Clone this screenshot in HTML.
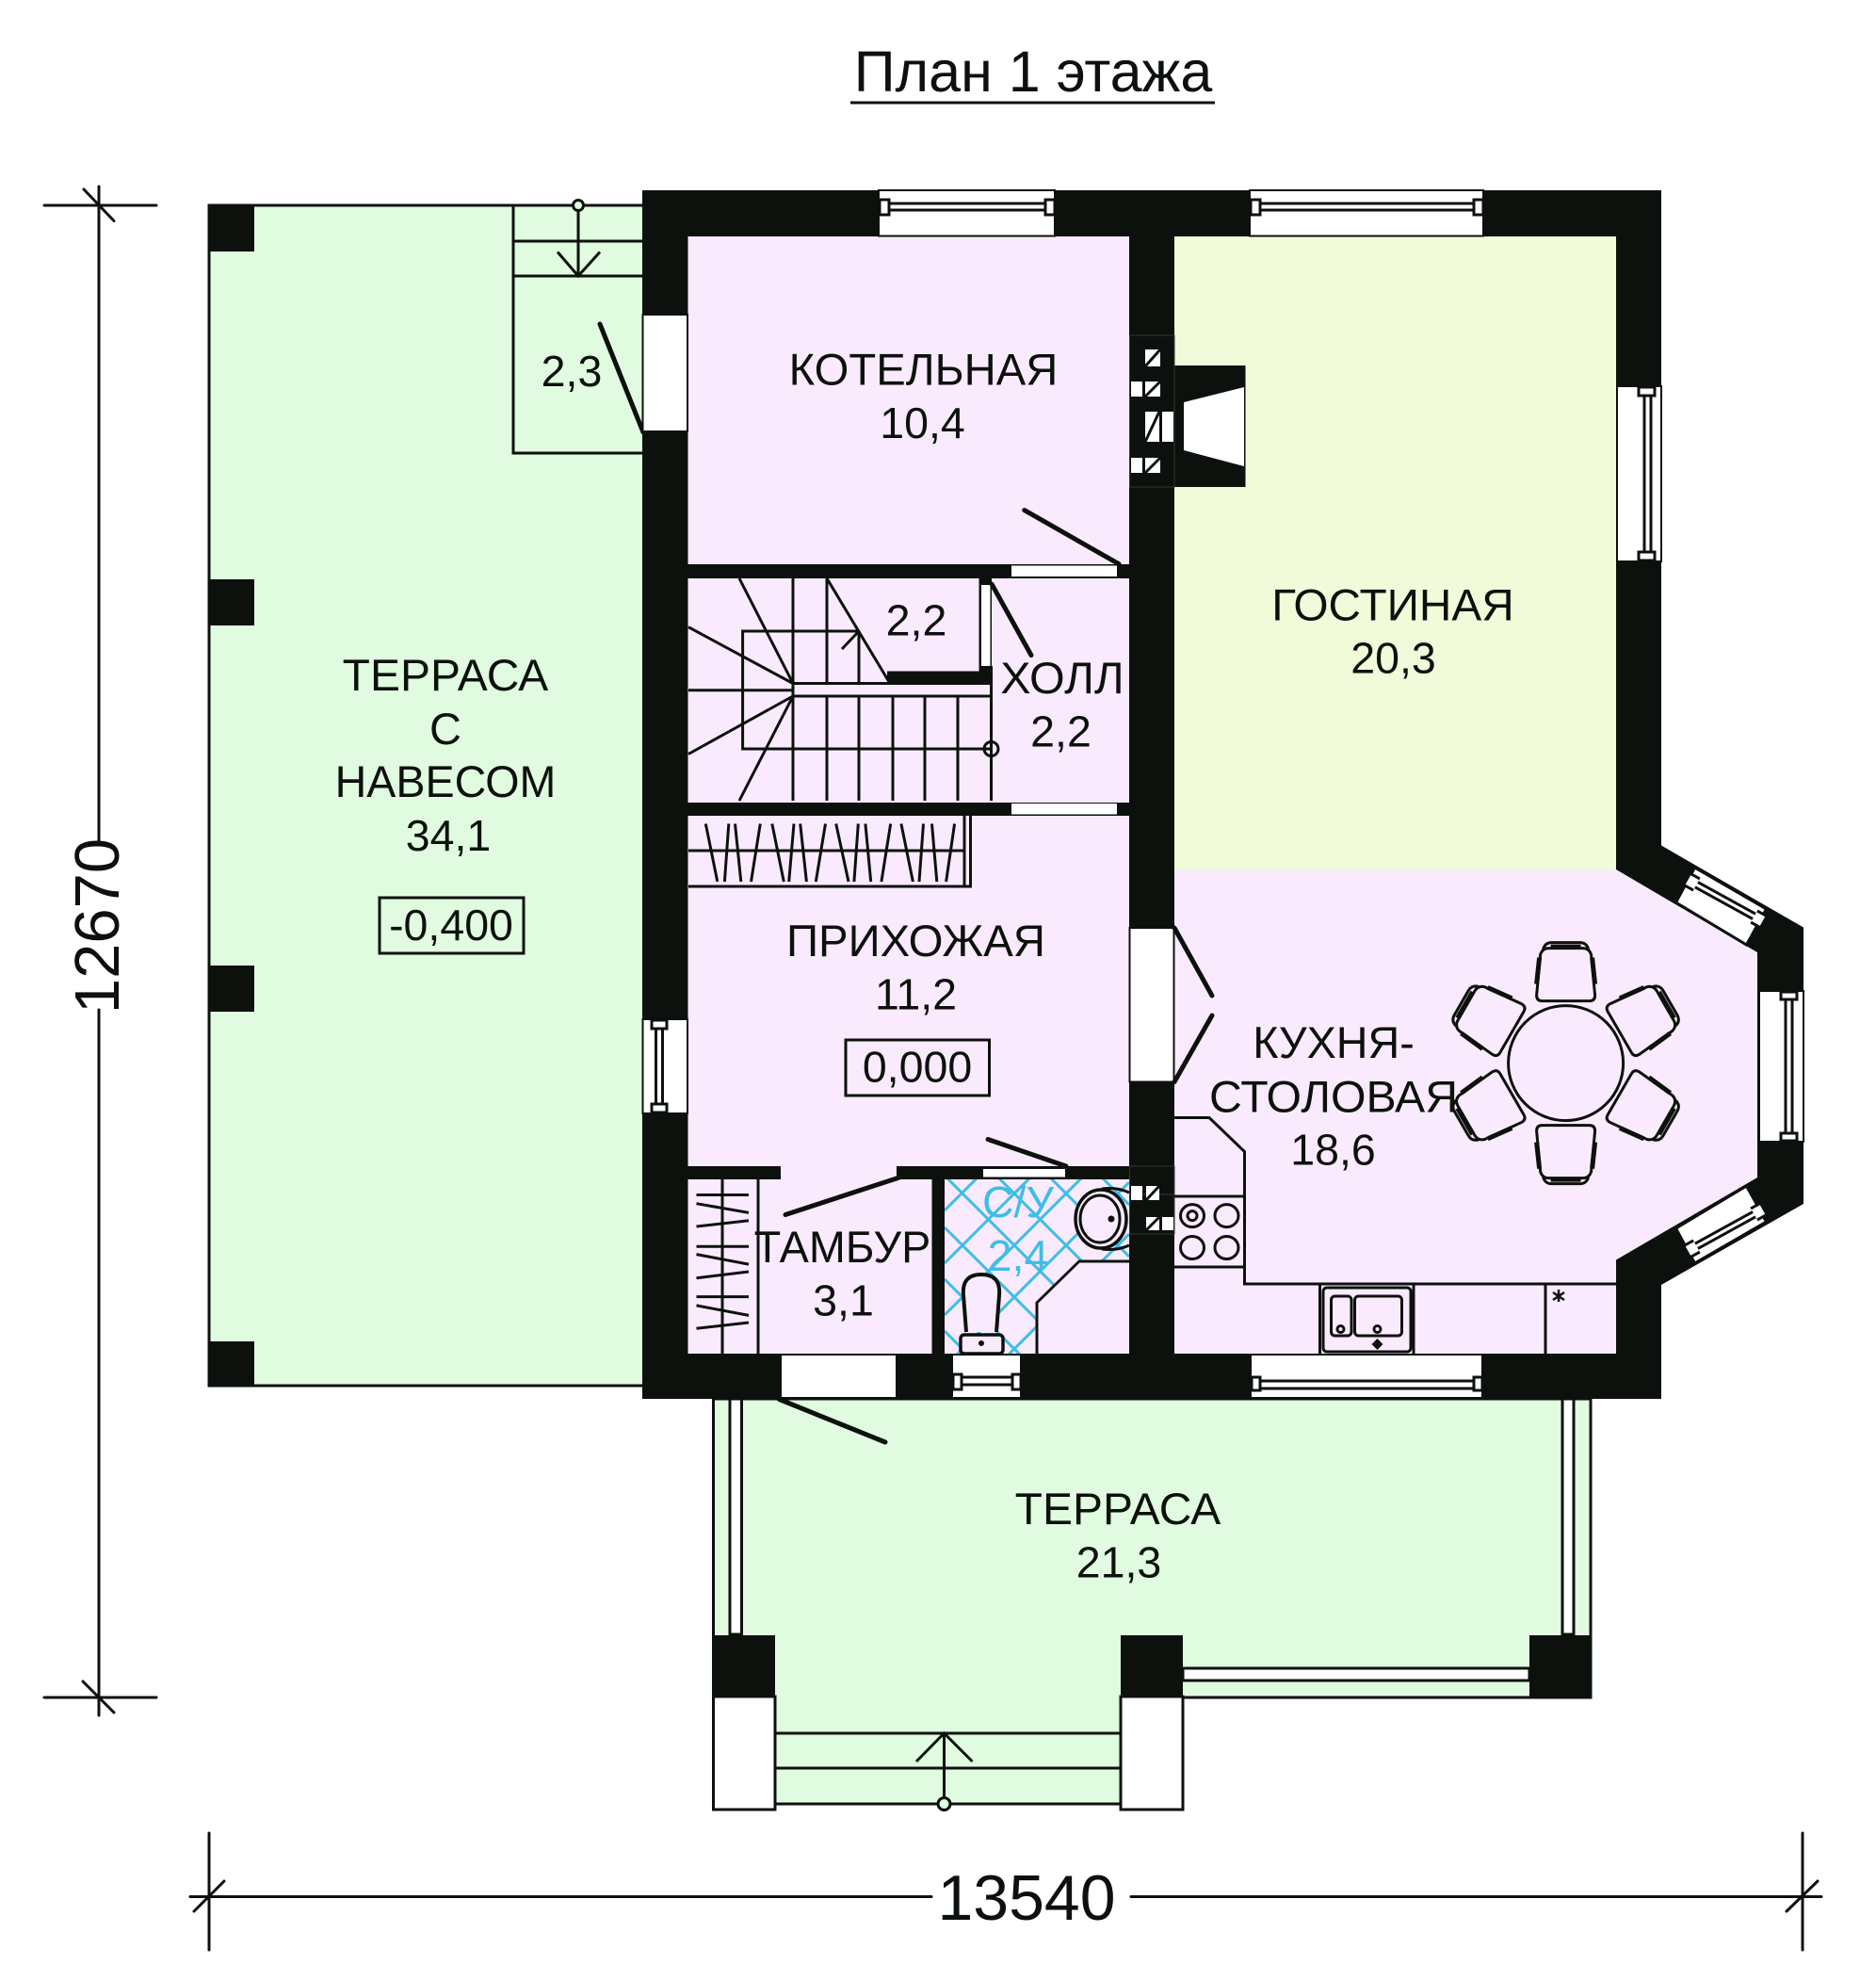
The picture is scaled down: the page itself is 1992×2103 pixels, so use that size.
<!DOCTYPE html>
<html><head><meta charset="utf-8"><style>
html,body{margin:0;padding:0;background:#fff}
svg{display:block}
text{font-family:"Liberation Sans",sans-serif;font-size:46.5px;fill:#0d110d;text-anchor:middle}
text.c{font-size:47px}
</style></head><body>
<svg width="1992" height="2103" viewBox="0 0 1992 2103" xmlns="http://www.w3.org/2000/svg">
<defs>
<clipPath id="su"><polygon points="1003,1252 1199,1252 1199,1339 1146,1339 1101,1383 1101,1437 1003,1437"/></clipPath>
<g id="chair" fill="none" stroke="#0d110d">
<path d="M-31,-72 L-27,-115 Q-25,-122 -18,-122 L18,-122 Q25,-122 27,-115 L31,-72 Q31,-66 25,-66 L-25,-66 Q-31,-66 -31,-72Z" stroke-width="3" fill="#f9ebfd"/>
<path d="M-31,-84 L-28,-112 M31,-84 L28,-112" stroke-width="5"/>
<path d="M-24,-121 Q-22,-128 -15,-128 L15,-128 Q22,-128 24,-121" stroke-width="3"/>
<path d="M-16,-124 L16,-124" stroke-width="4"/>
</g>
<g id="baywin">
<polygon points="1803,921 1879,965 1858,1003 1783,958" fill="#fff" stroke="#0d110d" stroke-width="3"/>
<line x1="1801" y1="937" x2="1870" y2="975" stroke="#0d110d" stroke-width="9"/>
<line x1="1801" y1="937" x2="1870" y2="975" stroke="#fff" stroke-width="3"/>
<line x1="1796" y1="934" x2="1805" y2="939" stroke="#0d110d" stroke-width="17"/>
<line x1="1796" y1="934" x2="1805" y2="939" stroke="#fff" stroke-width="11"/>
<line x1="1866" y1="973" x2="1875" y2="978" stroke="#0d110d" stroke-width="17"/>
<line x1="1866" y1="973" x2="1875" y2="978" stroke="#fff" stroke-width="11"/>
</g>
</defs>
<rect width="1992" height="2103" fill="#fff"/>

<!-- title -->
<text x="1097" y="97" style="font-size:61px">План 1 этажа</text>
<line x1="903" y1="109" x2="1290" y2="109" stroke="#0d110d" stroke-width="3"/>

<!-- dimensions -->
<g stroke="#0d110d" stroke-width="3" stroke-linecap="round" fill="none">
<path d="M105,198 V892 M105,1072 V1821 M47,218 H166 M47,1802 H166 M89,201 L121,234.5 M88,1785 L121,1818"/>
<path d="M202,2013.5 H989 M1201,2013.5 H1934 M222,1946 V2070 M1914,1946 V2070 M206,2029 L238,1997 M1897,2029 L1930,1997"/>
</g>
<text transform="translate(126,983) rotate(-90)" style="font-size:67px">12670</text>
<text x="1090" y="2038" style="font-size:68px">13540</text>

<!-- left terrace -->
<rect x="222" y="218" width="465" height="1253" fill="#e0fbe0" stroke="#0d110d" stroke-width="3"/>
<rect x="222" y="218" width="48" height="49" fill="#0d110d"/>
<rect x="222" y="615" width="48" height="49" fill="#0d110d"/>
<rect x="222" y="1025" width="48" height="49" fill="#0d110d"/>
<rect x="222" y="1424" width="48" height="47" fill="#0d110d"/>
<g stroke="#0d110d" stroke-width="3" fill="none">
<path d="M545,218 V481 H682 M545,256 H682 M545,293 H682 M614,218 V293 M592,267.5 L614,293 L637,267.5"/>
<circle cx="614" cy="218" r="5.5" fill="#e0fbe0"/>
</g>
<line x1="637" y1="344" x2="683" y2="459" stroke="#0d110d" stroke-width="5" stroke-linecap="round"/>
<rect x="403" y="953" width="153" height="59" fill="none" stroke="#0d110d" stroke-width="3"/>

<!-- bottom terrace -->
<rect x="757.5" y="1485" width="931.5" height="317" fill="#e0fbe0" stroke="#0d110d" stroke-width="3"/>
<rect x="823" y="1798" width="367" height="117" fill="#e0fbe0"/>
<rect x="757.5" y="1801" width="65.5" height="120" fill="#fff" stroke="#0d110d" stroke-width="3"/>
<rect x="1190" y="1801" width="66" height="120" fill="#fff" stroke="#0d110d" stroke-width="3"/>
<rect x="775" y="1485" width="12.5" height="250" fill="#fff" stroke="#0d110d" stroke-width="3"/>
<rect x="1659" y="1485" width="12" height="250" fill="#fff" stroke="#0d110d" stroke-width="3"/>
<rect x="1256" y="1771" width="368" height="13" fill="#fff" stroke="#0d110d" stroke-width="3"/>
<line x1="1256" y1="1802" x2="1689" y2="1802" stroke="#0d110d" stroke-width="3"/>
<rect x="757.5" y="1736" width="65.5" height="65" fill="#0d110d"/>
<rect x="1190" y="1736" width="66" height="65" fill="#0d110d"/>
<rect x="1624" y="1736" width="65" height="66" fill="#0d110d"/>
<g stroke="#0d110d" stroke-width="3" fill="none">
<path d="M823,1840 H1190 M823,1877 H1190 M823,1915 H1190 M1002.5,1840 V1915 M973,1870 L1002.5,1840 L1032.5,1870"/>
<circle cx="1002.5" cy="1915" r="6.5" fill="#e0fbe0"/>
</g>
<line x1="827.5" y1="1485.5" x2="940" y2="1531" stroke="#0d110d" stroke-width="5" stroke-linecap="round"/>

<!-- main walls -->
<polygon points="682,202 1764,202 1764,897.5 1915,984.5 1915,1278 1764,1364 1764,1485 682,1485" fill="#0d110d"/>

<!-- rooms -->
<g fill="#f9ebfd">
<rect x="730.5" y="251" width="468.5" height="348"/>
<rect x="730.5" y="614" width="468.5" height="238"/>
<rect x="730.5" y="866" width="468.5" height="372"/>
<rect x="829" y="1238" width="123" height="14"/>
<rect x="730.5" y="1252" width="259" height="185"/>
<rect x="1003" y="1252" width="196" height="185"/>
<polygon points="1247,923 1716,923 1866,1011 1866,1250 1716,1337.5 1716,1437 1247,1437"/>
</g>
<rect x="1247" y="251" width="469" height="672" fill="#f1fbd9"/>

<!-- openings -->
<g fill="#fff" stroke="#0d110d" stroke-width="2">
<rect x="682.5" y="334" width="47.5" height="124"/>
<rect x="682.5" y="1082" width="47.5" height="100"/>
<rect x="933" y="202" width="187" height="48.5"/>
<rect x="1327" y="202" width="248" height="48.5"/>
<rect x="1717" y="410" width="47" height="186"/>
<rect x="1868" y="1052" width="47" height="160"/>
<rect x="829" y="1438" width="123" height="46"/>
<rect x="1011" y="1438" width="73" height="46"/>
<rect x="1328" y="1438" width="246" height="46"/>
<rect x="1199.5" y="985" width="47" height="163.5"/>
</g>
<g fill="#fff">
<rect x="1074" y="600.5" width="112" height="11.5"/>
<rect x="1074" y="853" width="112" height="11.5"/>
<rect x="1044" y="1241" width="87" height="8.5"/>
</g>

<!-- window mullions -->
<g stroke="#0d110d" stroke-width="3" fill="#fff">
<rect x="935" y="216" width="185" height="7"/>
<rect x="934" y="212" width="10" height="16"/><rect x="1110" y="212" width="10" height="16"/>
<rect x="1328" y="216" width="247" height="7"/>
<rect x="1328" y="212" width="10" height="16"/><rect x="1565" y="212" width="10" height="16"/>
<rect x="1746" y="411" width="7" height="184"/>
<rect x="1740" y="411" width="17" height="9"/><rect x="1740" y="586" width="17" height="9"/>
<rect x="1896" y="1053" width="7" height="158"/>
<rect x="1891" y="1053" width="17" height="8"/><rect x="1891" y="1203" width="17" height="8"/>
<rect x="696.5" y="1083" width="7" height="98"/>
<rect x="692" y="1083" width="16" height="9"/><rect x="692" y="1172" width="16" height="9"/>
<rect x="1012" y="1462" width="71" height="8"/>
<rect x="1012" y="1459" width="9" height="16"/><rect x="1075" y="1459" width="9" height="16"/>
<rect x="1329" y="1466" width="245" height="8"/>
<rect x="1329" y="1462" width="9" height="14"/><rect x="1565" y="1462" width="9" height="14"/>
</g>

<!-- bay windows -->
<use href="#baywin" transform="translate(-3.5 0)"/>
<use href="#baywin" transform="matrix(1 0 0 -1 -3.5 2262)"/>

<!-- vents and fireplace -->
<rect x="1247" y="388" width="75.5" height="129" fill="#0d110d"/>
<polygon points="1257,427 1321,411 1321,495 1257,478" fill="#fff"/>
<g fill="none" stroke="#333833" stroke-width="1">
<rect x="1199.5" y="356" width="47.5" height="161"/>
<rect x="1199.5" y="1268" width="47.5" height="42"/>
<rect x="1199.5" y="1238" width="47.5" height="72"/>
</g>
<g fill="#fff">
<rect x="1216" y="371" width="16" height="18"/>
<rect x="1201" y="405" width="12" height="16"/><rect x="1216" y="405" width="16" height="16"/>
<rect x="1216" y="437" width="15" height="32"/><rect x="1234" y="437" width="12" height="32"/>
<rect x="1201" y="486" width="12" height="16"/><rect x="1216" y="486" width="16" height="16"/>
<rect x="1201" y="1259" width="12" height="15"/><rect x="1217" y="1259" width="14" height="15"/>
<rect x="1217" y="1292" width="14" height="14"/><rect x="1234" y="1292" width="12" height="14"/>
</g>
<g stroke="#0d110d" stroke-width="3">
<path d="M1216,389 L1232,371 M1216,421 L1232,405 M1216,469 L1231,437 M1216,502 L1232,486 M1217,1274 L1231,1259 M1217,1306 L1231,1292"/>
</g>

<!-- hall partitions and stairs -->
<rect x="1039.5" y="614" width="13.5" height="111" fill="#0d110d"/>
<rect x="942" y="712.5" width="111" height="13" fill="#0d110d"/>
<rect x="1042" y="621" width="9.5" height="86" fill="#fff"/>
<g stroke="#0d110d" stroke-width="3" fill="none">
<path d="M842,614 V850 M878,614 V725.5 M878,739 V850 M912,670 V725.5 M912,739 V850 M948,739 V850 M982,739 V850 M1017,739 V850 M1052.5,707 V850"/>
<path d="M842,725.5 H1052.5 M842,739 H1052.5 M731,732.7 H842"/>
<path d="M785,614 L842,725.5 M731,665.7 L842,725.5 M731,800.5 L842,739 M785,850 L842,739 M878,614 L945,725.5"/>
<path d="M912,670 H788.6 V795 H1052.5 M894,689 L912,670"/>
<circle cx="1052.5" cy="795" r="7.5"/>
</g>
<g stroke="#0d110d" stroke-width="5" stroke-linecap="round">
<line x1="1188" y1="598.7" x2="1087.7" y2="541.6"/>
<line x1="1053" y1="620" x2="1095" y2="695.6"/>
<line x1="1132" y1="1238" x2="1049" y2="1209.5"/>
<line x1="955" y1="1250" x2="834" y2="1289.5"/>
<line x1="1247" y1="985" x2="1287" y2="1057"/>
<line x1="1247" y1="1148.5" x2="1287" y2="1078"/>
</g>

<!-- lobby closet -->
<g stroke="#0d110d" stroke-width="3" fill="none">
<path d="M731,941 H1030.5 V866 M1024,866 V941 M731,903 H1024"/>
<path d="M749.3,874.5 L761.8,936 M773.8,874.5 L769.4,936 M780.5,874.5 L786.8,936 M807.3,874.5 L797.5,936 M819.8,874.5 L832.3,936 M843,874.5 L837.7,936 M849.7,874.5 L856.4,936 M876.5,874.5 L866.3,936 M887.7,874.5 L901,936 M911.3,874.5 L906.9,936 M918.9,874.5 L924.7,936 M945.7,874.5 L935.9,936 M956.9,874.5 L969.4,936 M980.5,874.5 L976,936 M989.5,874.5 L994.8,936 M1013.6,874.5 L1004.6,936"/>
</g>

<!-- lower walls -->
<rect x="730" y="1238" width="99" height="14" fill="#0d110d"/>
<rect x="989.5" y="1252" width="13.5" height="185" fill="#0d110d"/>

<!-- tambour closet -->
<g stroke="#0d110d" stroke-width="3" fill="none">
<path d="M805,1252 V1437 M767,1252 V1437"/>
<path d="M739.5,1268.5 H795 M739.5,1277.7 L795,1287.4 M739.5,1302 L795,1295.8 M739.5,1323.2 H795 M739.5,1331.6 L795,1342.1 M739.5,1356.8 L795,1350 M739.5,1376.6 H795 M739.5,1385.9 L795,1396.4 M739.5,1410.3 L795,1404"/>
</g>

<!-- bathroom -->
<g clip-path="url(#su)" stroke="#3fbde6" stroke-width="3">
<path d="M1003,1230 L1199,1034 M1003,1285 L1199,1089 M1003,1341 L1199,1145 M1003,1396 L1199,1200 M1003,1451 L1199,1255 M1003,1506 L1199,1310 M1003,1561 L1199,1365 M1003,1616 L1199,1420"/>
<path d="M1003,1083 L1199,1279 M1003,1138 L1199,1334 M1003,1193 L1199,1389 M1003,1248 L1199,1444 M1003,1303 L1199,1499 M1003,1358 L1199,1554 M1003,1413 L1199,1609"/>
</g>
<polyline points="1199,1339 1146,1339 1101,1383 1101,1437" fill="#f9ebfd" stroke="#0d110d" stroke-width="3"/>
<polygon points="1199,1340.5 1146.5,1340.5 1102.5,1383.5 1102.5,1436 1199,1436" fill="#f9ebfd"/>
<g stroke="#0d110d" fill="none">
<ellipse cx="1169" cy="1294" rx="27" ry="31" stroke-width="3.5" fill="#f9ebfd"/>
<ellipse cx="1168" cy="1294" rx="21" ry="25" stroke-width="3"/>
<path d="M1170,1262 Q1186,1260 1199,1266 M1170,1326 Q1186,1328 1199,1322" stroke-width="3"/>
<path d="M1026,1414 L1023,1375 Q1021,1353 1042,1353 Q1063,1353 1061,1375 L1058,1414" stroke-width="4" fill="#f9ebfd"/>
<rect x="1020" y="1417" width="45" height="20" rx="4" stroke-width="3.5" fill="#f9ebfd"/>
</g>
<circle cx="1180" cy="1294" r="3.5" fill="#0d110d"/>
<circle cx="1042" cy="1426" r="3" fill="#0d110d"/>

<!-- kitchen -->
<g stroke="#0d110d" stroke-width="3" fill="none">
<path d="M1247,1186.5 H1284 L1321.5,1222.5 V1363 H1716 M1247,1270 H1321.5 M1247,1345 H1321.5 M1641,1363 V1437"/>
<ellipse cx="1266" cy="1290.6" rx="12.5" ry="12"/><circle cx="1266" cy="1290.6" r="5"/>
<ellipse cx="1302.5" cy="1290.6" rx="12.5" ry="12"/>
<ellipse cx="1266" cy="1324.5" rx="12.5" ry="12"/>
<ellipse cx="1302.5" cy="1324.5" rx="12.5" ry="12"/>
<path d="M1401.5,1363 V1437 M1501,1363 V1437"/>
<rect x="1405" y="1367" width="93" height="68" rx="4"/>
<rect x="1413.5" y="1376" width="21.5" height="42" rx="4"/>
<rect x="1438.5" y="1376" width="50" height="42" rx="4"/>
<circle cx="1423.5" cy="1411" r="3.5"/><circle cx="1462.5" cy="1411" r="3.5"/>
<path d="M1655,1369 V1382 M1649,1372 L1661,1380 M1661,1372 L1649,1380" stroke-width="2.5"/>
</g>
<polygon points="1462.5,1421 1468.5,1427 1462.5,1433 1456.5,1427" fill="#0d110d"/>

<!-- table -->
<use href="#chair" transform="translate(1662.6 1128.6)"/>
<use href="#chair" transform="translate(1662.6 1128.6) rotate(60)"/>
<use href="#chair" transform="translate(1662.6 1128.6) rotate(120)"/>
<use href="#chair" transform="translate(1662.6 1128.6) rotate(180)"/>
<use href="#chair" transform="translate(1662.6 1128.6) rotate(240)"/>
<use href="#chair" transform="translate(1662.6 1128.6) rotate(300)"/>
<circle cx="1662.6" cy="1128.6" r="61" fill="none" stroke="#0d110d" stroke-width="3"/>

<!-- labels -->
<text class="c" x="473" y="733" textLength="218.6" lengthAdjust="spacingAndGlyphs">ТЕРРАСА</text>
<text class="c" x="473" y="790">С</text>
<text class="c" x="473" y="846" textLength="234.7" lengthAdjust="spacingAndGlyphs">НАВЕСОМ</text>
<text x="476" y="903">34,1</text>
<text x="479" y="998">-0,400</text>
<text x="607" y="410">2,3</text>
<text class="c" x="980.5" y="408.5" textLength="285.6" lengthAdjust="spacingAndGlyphs">КОТЕЛЬНАЯ</text>
<text x="979.5" y="465">10,4</text>
<text x="973" y="674.5">2,2</text>
<text class="c" x="1128" y="736" textLength="131.4" lengthAdjust="spacingAndGlyphs">ХОЛЛ</text>
<text x="1126.5" y="792.5">2,2</text>
<text class="c" x="1479" y="658.5" textLength="257.5" lengthAdjust="spacingAndGlyphs">ГОСТИНАЯ</text>
<text x="1479.5" y="714.5">20,3</text>
<text class="c" x="972.5" y="1015" textLength="275" lengthAdjust="spacingAndGlyphs">ПРИХОЖАЯ</text>
<text x="972.5" y="1071.5">11,2</text>
<rect x="898" y="1104" width="152.5" height="59" fill="none" stroke="#0d110d" stroke-width="3"/>
<text x="974" y="1148.5">0,000</text>
<text class="c" x="894.5" y="1340" textLength="187.7" lengthAdjust="spacingAndGlyphs">ТАМБУР</text>
<text x="895.5" y="1396.5">3,1</text>
<text x="1081" y="1292" style="fill:#3fbde6">С/У</text>
<text x="1081" y="1349" style="fill:#3fbde6">2,4</text>
<text class="c" x="1416" y="1123" textLength="171.6" lengthAdjust="spacingAndGlyphs">КУХНЯ-</text>
<text class="c" x="1416" y="1180.5" textLength="264" lengthAdjust="spacingAndGlyphs">СТОЛОВАЯ</text>
<text x="1415.5" y="1236.5">18,6</text>
<text class="c" x="1187" y="1618" textLength="218.6" lengthAdjust="spacingAndGlyphs">ТЕРРАСА</text>
<text x="1188" y="1674.5">21,3</text>
</svg>
</body></html>
